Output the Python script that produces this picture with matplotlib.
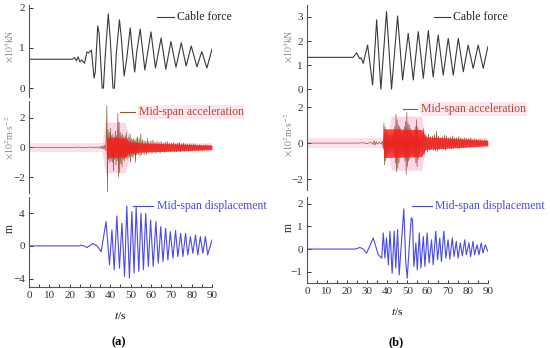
import matplotlib
matplotlib.use("Agg")
import matplotlib.pyplot as plt
from matplotlib.ticker import MultipleLocator

plt.rcParams['font.family'] = ['Liberation Serif', 'DejaVu Serif']
plt.rcParams['mathtext.fontset'] = 'stix'

# ---- (a) cable force, x10^4 kN (peaks / troughs)
force_a_t = [0, 21.5, 22.5, 23.3, 24.2, 25, 26, 27.3, 28.5, 29.5, 30.7, 32.0, 32.6, 33.8, 34.5,
             36.0, 36.6, 37.5, 39.0, 40.0, 41.3, 42.0, 43.0, 44.5, 45.5, 46.8, 48.0, 49.8, 50.5,
             52, 53, 54.7, 57, 60, 62.2, 65, 67.3, 69.8, 72.3, 74.9, 77.3, 79.8, 82.6, 85, 87.5, 90]
force_a_v = [0.72, 0.72, 0.76, 0.68, 0.78, 0.66, 0.7, 0.62, 0.9, 0.88, 0.95, 0.25, 0.4, 1.55, 1.35,
             0.0, 0.0, 0.8, 1.85, 1.2, 0.0, 0.0, 0.9, 1.7, 1.2, 0.3, 0.7, 1.5, 1.1,
             0.4, 0.9, 1.47, 0.45, 1.4, 0.5, 1.25, 0.47, 1.16, 0.52, 1.13, 0.55, 1.05, 0.53, 0.91, 0.5, 0.97]

# ---- (b) cable force, x10^4 kN
force_b_t = [0, 23, 24.7, 26.3, 27.0, 28, 30.2, 32.7, 34.7, 36.8, 39.6, 42.1, 45.1, 47.6, 50.4,
             52.9, 55.4, 57.9, 60.4, 62.8, 65.3, 67.8, 70.3, 72.8, 75.3, 77.8, 80.2, 82.7, 85.2, 87.7, 90]
force_b_v = [1.32, 1.32, 1.51, 1.26, 1.3, 1.07, 1.83, 0.17, 2.88, 0.0, 3.22, 0.0, 3.04, 0.38, 2.32,
             0.38, 2.39, 0.45, 2.43, 0.5, 2.25, 0.58, 2.11, 0.58, 2.11, 0.72, 1.83, 0.86, 1.83, 0.86, 1.76]

# ---- (a) mid-span acceleration, x10^2 m/s^2
acc_a_t = [0, 20, 25, 28, 30, 32, 33, 34, 35, 35.5, 36, 36.5, 37, 37.5, 38.0, 38.3, 38.6, 38.9, 39.2,
           39.5, 39.8, 40.1, 40.4, 40.7, 41.0, 41.3, 41.6, 41.9, 42.2, 42.5, 42.8, 43.1, 43.4, 43.7,
           44.0, 44.3, 44.6, 44.9, 45.2, 45.5, 45.8, 46.1, 46.4, 46.7, 47.0, 47.3, 47.6, 47.9, 48.2,
           48.5, 48.8, 49.1, 49.4, 49.7, 50.0, 50.3, 50.6, 50.9, 51.2, 51.5, 51.8, 52.1, 52.4, 52.7,
           53.0, 53.4, 53.8, 54.2, 54.6, 55.0, 55.4, 55.8, 56.2, 56.6, 57.0, 57.4, 57.8, 58.2, 58.6,
           59.0, 59.5, 60.0, 60.5, 61.0, 61.5, 62.0, 62.5, 63.0, 63.5, 64.0, 64.5, 65.0, 65.5, 66.0,
           66.5, 67.0, 67.5, 68.0, 68.5, 69.0, 69.5, 70.0, 70.5, 71.0, 71.5, 72.0, 72.5, 73.0, 73.5,
           74.0, 74.5, 75.0, 75.5, 76.0, 76.5, 77.0, 77.5, 78.0, 78.5, 79.0, 79.5, 80.0, 80.5, 81.0,
           81.5, 82.0, 82.5, 83.0, 83.5, 84.0, 84.5, 85.0, 85.5, 86.0, 86.5, 87.0, 87.5, 88.0, 88.5,
           89.0, 89.5, 90.0]
acc_a_v = [0, 0, 0.02, -0.02, 0.03, -0.03, 0.04, -0.05, 0.06, -0.08, 0.1, -0.1, 0.15, -0.2, 0.5, 2.8,
           -3.0, 1.2, -0.8, 1.0, -1.0, 1.3, -0.9, 0.8, -1.0, 0.9, -1.6, 0.7, -0.8, 1.1, -1.2, 0.8,
           -0.9, 2.3, -2.0, 1.7, -1.7, 1.0, -1.1, 0.8, -1.3, 0.9, -0.8, 0.7, -0.9, 0.8, -0.7, 1.0,
           -0.8, 0.6, -0.7, 0.7, -0.6, 0.9, -1.0, 0.6, -0.6, 0.5, -0.7, 0.6, -0.5, 0.5, -1.0, 0.6,
           -0.5, 0.7, -0.5, 0.6, -0.6, 0.9, -0.5, 0.5, -0.4, 0.45, -0.5, 0.4, -0.45, 0.6, -0.4, 0.4,
           -0.35, 0.45, -0.4, 0.5, -0.35, 0.35, -0.4, 0.4, -0.3, 0.35, -0.4, 0.4, -0.3, 0.3, -0.35,
           0.35, -0.3, 0.4, -0.25, 0.3, -0.3, 0.3, -0.25, 0.35, -0.3, 0.25, -0.3, 0.3, -0.25, 0.35,
           -0.3, 0.25, -0.2, 0.3, -0.25, 0.25, -0.2, 0.2, -0.25, 0.25, -0.2, 0.2, -0.2, 0.25, -0.15,
           0.2, -0.2, 0.15, -0.2, 0.2, -0.15, 0.15, -0.2, 0.15, -0.15, 0.2, -0.15, 0.15, -0.1, 0.15,
           -0.1, 0.1]
red_a_t = [37.8, 38.2, 47.5, 49, 56, 70, 90]
red_a_hi = [0.0, 0.7, 0.65, 0.4, 0.3, 0.25, 0.15]
pink_a_t = [36, 37.5, 47, 50, 54]
pink_a_hi = [0.3, 1.7, 1.7, 0.6, 0.3]

# ---- (b) mid-span acceleration, x10^2 m/s^2
acc_b_t = [0, 25, 28, 30, 32, 33, 33.5, 34, 34.5, 35, 36, 37, 37.5, 38.0, 38.3, 38.6, 38.9, 39.2,
           39.5, 39.8, 40.1, 40.4, 40.7, 41.0, 41.3, 41.6, 41.9, 42.2, 42.5, 42.8, 43.1, 43.4, 43.7,
           44.0, 44.3, 44.6, 44.9, 45.2, 45.5, 45.8, 46.1, 46.4, 46.7, 47.0, 47.3, 47.6, 47.9, 48.2,
           48.5, 48.8, 49.1, 49.4, 49.7, 50.0, 50.3, 50.6, 50.9, 51.2, 51.5, 51.8, 52.1, 52.4, 52.7,
           53.0, 53.3, 53.6, 53.9, 54.2, 54.5, 54.8, 55.1, 55.4, 55.7, 56.0, 56.4, 56.8, 57.2, 57.6,
           58.0, 58.4, 58.8, 59.2, 59.6, 60.0, 60.5, 61.0, 61.5, 62.0, 62.5, 63.0, 63.5, 64.0, 64.5,
           65.0, 65.5, 66.0, 66.5, 67.0, 67.5, 68.0, 68.5, 69.0, 69.5, 70.0, 70.5, 71.0, 71.5, 72.0,
           72.5, 73.0, 73.5, 74.0, 74.5, 75.0, 75.5, 76.0, 76.5, 77.0, 77.5, 78.0, 78.5, 79.0, 79.5,
           80.0, 80.5, 81.0, 81.5, 82.0, 82.5, 83.0, 83.5, 84.0, 84.5, 85.0, 85.5, 86.0, 86.5, 87.0,
           87.5, 88.0, 88.5, 89.0, 89.5, 90.0]
acc_b_v = [0, 0.0, 0.02, -0.03, 0.05, -0.08, 0.12, -0.1, 0.08, -0.05, 0.05, -0.05, 0.1, -0.3, 1.1,
           -1.2, 0.9, -1.0, 0.7, -0.8, 0.6, -0.6, 0.5, -0.5, 0.4, -0.5, 0.5, -0.4, 0.4, -0.5, 0.6,
           -0.7, 0.9, -1.1, 1.6, -1.6, 1.3, -1.4, 1.0, -1.1, 0.9, -0.8, 0.8, -0.7, 0.6, -0.6, 0.7,
           -0.8, 0.9, -1.0, 1.2, -1.75, 1.7, -1.3, 1.1, -1.0, 1.0, -0.9, 0.8, -0.7, 0.6, -0.6, 0.5,
           -0.6, 0.7, -0.8, 0.9, -1.1, 1.3, -1.3, 0.9, -0.9, 0.7, -0.6, 0.5, -0.5, 0.6, -0.7, 0.8,
           -0.6, 0.5, -0.4, 0.4, -0.5, 0.5, -0.4, 0.35, -0.35, 0.4, -0.4, 0.5, -0.45, 0.65, -0.45,
           0.4, -0.35, 0.3, -0.3, 0.35, -0.35, 0.45, -0.4, 0.4, -0.3, 0.3, -0.3, 0.35, -0.35, 0.4,
           -0.3, 0.3, -0.25, 0.3, -0.3, 0.35, -0.3, 0.3, -0.25, 0.25, -0.25, 0.3, -0.25, 0.25, -0.2,
           0.25, -0.25, 0.3, -0.2, 0.2, -0.2, 0.25, -0.2, 0.2, -0.15, 0.2, -0.2, 0.2, -0.15, 0.15,
           -0.15, 0.2, -0.15, 0.15, -0.1]
red_b_t = [37.8, 38.3, 57, 59, 90]
red_b_hi = [0.0, 0.8, 0.75, 0.35, 0.15]
pink_b_t = [40, 42, 57, 59]
pink_b_hi = [0.3, 1.5, 1.5, 0.3]

# ---- (a) mid-span displacement, m
disp_a_t = [0, 25, 25.5, 27, 28.5, 31.5, 33.5, 35.5, 37.9, 39.6, 40.8, 41.9, 43.2, 44.5, 45.7, 47.0,
            48.1, 49.4, 50.6, 51.7, 52.7, 54.0, 55.1, 56.3, 57.4, 58.7, 59.8, 61.1, 62.4, 63.6, 64.8,
            65.9, 67.2, 68.3, 69.5, 70.8, 72.1, 73.2, 74.6, 75.7, 77.0, 78.1, 79.4, 80.6, 81.9, 83.0,
            84.3, 85.5, 86.8, 87.9, 90]
disp_a_v = [0, 0, 0.1, 0.0, -0.2, 0.3, 0.0, -0.7, 2.95, -2.3, 1.94, -2.9, 3.64, -2.7, 2.75, -3.7,
            4.85, -3.9, 4.16, -3.3, 4.68, -3.1, 3.96, -2.9, 3.96, -2.5, 3.15, -2.5, 2.95, -2.1, 2.34,
            -1.9, 2.14, -1.7, 1.74, -1.5, 1.86, -1.3, 1.53, -1.3, 1.53, -1.1, 1.13, -0.9, 1.33, -1.1,
            1.13, -0.9, 1.13, -1.1, 0.73]

# ---- (b) mid-span displacement, m
disp_b_t = [0, 24, 26.4, 28, 29.7, 33, 35.5, 37.2, 38.0, 38.8, 39.6, 40.5, 41.3, 42.4, 43.4, 44.2,
            45.1, 45.9, 47.0, 48.2, 49.2, 49.9, 50.9, 51.9, 52.5, 53.2, 54.2, 54.9, 55.9, 56.7, 57.9,
            58.7, 59.8, 60.8, 62.0, 62.8, 64.1, 65.0, 66.1, 66.9, 68.1, 69.1, 70.2, 71.1, 72.3, 73.2,
            74.3, 75.2, 76.3, 77.3, 78.5, 79.3, 80.6, 81.4, 82.6, 83.4, 84.6, 85.6, 86.7, 87.6, 88.7, 90]
disp_b_v = [0, 0, 0.07, 0.0, -0.18, 0.49, -0.25, -0.4, 0.71, -0.4, 0.49, -0.7, 0.79, -1.07, 0.79,
            -0.84, 0.86, -1.14, 0.27, 1.78, -0.62, -1.29, 0.12, 1.38, 1.3, -0.77, 0.27, -0.92, 0.71,
            -0.84, 0.56, -0.77, 0.71, -0.62, 0.41, -0.7, 0.79, -0.47, 0.49, -0.55, 0.79, -0.4, 0.41,
            -0.44, 0.49, -0.33, 0.34, -0.4, 0.27, -0.3, 0.41, -0.25, 0.27, -0.33, 0.34, -0.25, 0.19,
            -0.25, 0.27, -0.18, 0.19, -0.1]

BLACK = '#3a3a3a'
BROWN = '#8c5a3a'
BLUE = '#4a4ae6'
LABEL_GRAY = '#8a8a8a'

fig = plt.figure(figsize=(5.5, 3.48), dpi=100)


def style(ax, ylim, yticks, bottom=False):
    ax.set_xlim(0, 90)
    ax.set_ylim(*ylim)
    ax.set_yticks(yticks)
    ax.patch.set_alpha(0)
    for s in ['top', 'right']:
        ax.spines[s].set_visible(False)
    ax.spines['left'].set_color('#555555')
    ax.spines['left'].set_linewidth(0.8)
    ax.tick_params(axis='y', direction='in', length=3, width=0.7, labelsize=8, pad=3,
                   colors='#333333')
    if bottom:
        ax.spines['bottom'].set_color('#555555')
        ax.spines['bottom'].set_linewidth(0.8)
        ax.set_xticks(range(0, 91, 10))
        ax.xaxis.set_minor_locator(MultipleLocator(5))
        ax.tick_params(axis='x', which='both', direction='in', length=2.5, width=0.7,
                       labelsize=8, pad=3, colors='#333333')
        ax.set_xlabel(r'$t$/s', fontsize=8, labelpad=7)
    else:
        ax.spines['bottom'].set_visible(False)
        ax.set_xticks([])


def legend_line(ax, x0, x1, y, text, color, tcolor, bg=None):
    ax.plot([x0, x1], [y, y], color=color, lw=0.8, transform=ax.transAxes, clip_on=False)
    t = ax.text(x1 + 0.02, y, text, transform=ax.transAxes, fontsize=8.5, color=tcolor,
                va='center', ha='left', clip_on=False)
    if bg:
        t.set_bbox(dict(facecolor=bg, edgecolor='none', pad=0.5))


panels = [
    dict(x=0.0527, w=0.3327,
         tops=[(0.7213, 0.2644), (0.4454, 0.2644), (0.1753, 0.2586)],
         force=(force_a_t, force_a_v), f_ylim=(-0.22, 2.07), f_ticks=[0, 1, 2],
         acc=(acc_a_t, acc_a_v), a_ylim=(-3.07, 3.13), a_ticks=[-2, 0, 2],
         red=(red_a_t, red_a_hi), pink=(pink_a_t, pink_a_hi),
         disp=(disp_a_t, disp_a_v), d_ylim=(-5.0, 5.95), d_ticks=[-4, 0, 4],
         leg_x=[0.70, 0.50, 0.57], tag='(a)', ylab_x=0.018),
    dict(x=0.558, w=0.329,
         tops=[(0.7213, 0.2644), (0.4540, 0.2644), (0.1868, 0.2471)],
         force=(force_b_t, force_b_v), f_ylim=(-0.33, 3.5), f_ticks=[0, 1, 2, 3],
         acc=(acc_b_t, acc_b_v), a_ylim=(-2.6, 2.5), a_ticks=[-2, 0, 2],
         red=(red_b_t, red_b_hi), pink=(pink_b_t, pink_b_hi),
         disp=(disp_b_t, disp_b_v), d_ylim=(-1.5, 2.3), d_ticks=[-1, 0, 1, 2],
         leg_x=[0.70, 0.53, 0.58], tag='(b)', ylab_x=0.525),
]

for p in panels:
    (b1, h1), (b2, h2), (b3, h3) = p['tops']
    ax1 = fig.add_axes([p['x'], b1, p['w'], h1])
    ax2 = fig.add_axes([p['x'], b2, p['w'], h2])
    ax3 = fig.add_axes([p['x'], b3, p['w'], h3])

    ax1.plot(*p['force'], color=BLACK, lw=0.8)
    style(ax1, p['f_ylim'], p['f_ticks'])

    # pink glow, brown trace, red envelope laid over it
    ax2.axhspan(-0.28, 0.28, xmin=0, xmax=1, color='#fde0ec', lw=0, zorder=0)
    pt, ph = p['pink']
    ax2.fill_between(pt, [-v for v in ph], ph, color='#fcd6e8', lw=0, zorder=1)
    ax2.plot(*p['acc'], color=BROWN, lw=0.5, zorder=2)
    rt, rh = p['red']
    ax2.fill_between(rt, [-v for v in rh], rh, color='#ff1a1a', alpha=0.8, lw=0, zorder=3)
    style(ax2, p['a_ylim'], p['a_ticks'])

    ax3.plot(*p['disp'], color=BLUE, lw=0.8)
    style(ax3, p['d_ylim'], p['d_ticks'], bottom=True)

    lx = p['leg_x']
    legend_line(ax1, lx[0], lx[0] + 0.09, 0.87, 'Cable force', BLACK, '#222222')
    legend_line(ax2, lx[1], lx[1] + 0.08, 0.88, 'Mid-span acceleration', BROWN, '#b04a30',
                bg='#fde6ef')
    legend_line(ax3, lx[2], lx[2] + 0.11, 0.90, 'Mid-span displacement', BLUE, BLUE)

    fx = p['ylab_x']
    fig.text(fx, b1 + h1 * 0.55, r'$\times10^4$kN', rotation=90, fontsize=7, color=LABEL_GRAY,
             ha='center', va='center')
    fig.text(fx, b2 + h2 * 0.6, r'$\times10^2$m$\cdot$s$^{-2}$', rotation=90, fontsize=7,
             color=LABEL_GRAY, ha='center', va='center')
    fig.text(fx, b3 + h3 * 0.65, 'm', rotation=90, fontsize=8.5, color='#333333',
             ha='center', va='center')
    fig.text(p['x'] + p['w'] * 0.49, 0.017, p['tag'], fontsize=9, fontweight='bold',
             ha='center', va='center')

fig.savefig('out.png', dpi=100)
